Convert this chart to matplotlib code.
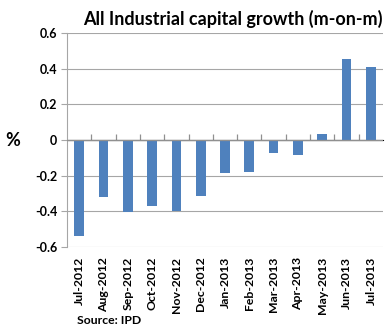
import numpy as np
import matplotlib.pyplot as plt

months = ['Jul-2012', 'Aug-2012', 'Sep-2012', 'Oct-2012', 'Nov-2012', 'Dec-2012',
          'Jan-2013', 'Feb-2013', 'Mar-2013', 'Apr-2013', 'May-2013', 'Jun-2013', 'Jul-2013']
growth = [-0.54, -0.32, -0.405, -0.37, -0.40, -0.315, -0.185, -0.18, -0.075, -0.085, 0.035, 0.455, 0.41]
yticks = [-0.6, -0.4, -0.2, 0, 0.2, 0.4, 0.6]
ytick_labels = ['-0.6', '-0.4', '-0.2', '0', '0.2', '0.4', '0.6']

plt.rcParams['font.family'] = ['Lato', 'DejaVu Sans']

fig = plt.figure(figsize=(3.86, 3.33), dpi=100)
ax = fig.add_axes([67 / 386, (333 - 247) / 333, (383 - 67) / 386, (247 - 33) / 333])

x = np.arange(len(months))
ax.bar(x, growth, width=0.4, color='#4f81bd', zorder=3)

ax.set_xlim(-0.5, len(months) - 0.5)
ax.set_ylim(-0.6, 0.6)
ax.set_yticks(yticks)
ax.set_yticklabels(ytick_labels, fontsize=9, fontweight='bold')
ax.yaxis.grid(True, color='#a6a6a6', linewidth=0.8, zorder=0)
ax.tick_params(axis='y', length=4, color='#a6a6a6', pad=3)

ax.set_xticks(x)
ax.set_xticklabels(months, rotation=90, fontsize=8.8, fontweight='bold')
ax.tick_params(axis='x', length=0, pad=7)

for s in ['top', 'right', 'bottom']:
    ax.spines[s].set_visible(False)
ax.spines['left'].set_color('#a6a6a6')

# horizontal axis crossing at zero with tick marks between categories
ax.axhline(0, color='#909090', linewidth=0.9, zorder=4)
sec = ax.secondary_xaxis(0.5)
sec.set_xticks(x[:-1] + 0.5)
sec.set_xticklabels([])
sec.tick_params(axis='x', length=4, color='#909090', width=0.9)
sec.spines['bottom'].set_visible(False)

ax.set_ylabel('%', rotation=0, fontsize=13, fontweight='bold', labelpad=16, va='center')
ax.set_title('All Industrial capital growth (m-on-m)', fontsize=13, fontweight='bold',
             loc='right', pad=6)
fig.text(77 / 386, 1 - 320 / 333, 'Source: IPD', fontsize=8.8, fontweight='bold', va='center')

fig.savefig('out.png', dpi=100)
